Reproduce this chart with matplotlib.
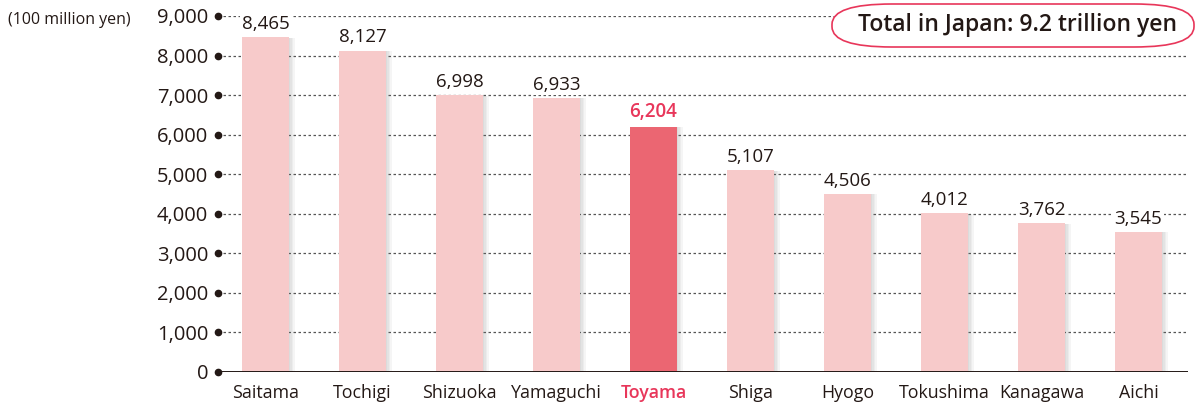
import matplotlib.pyplot as plt
import matplotlib.patheffects as pe
from matplotlib.patches import FancyBboxPatch

prefectures = ['Saitama', 'Tochigi', 'Shizuoka', 'Yamaguchi', 'Toyama',
               'Shiga', 'Hyogo', 'Tokushima', 'Kanagawa', 'Aichi']
values = [8465, 8127, 6998, 6933, 6204, 5107, 4506, 4012, 3762, 3545]
highlight = 'Toyama'
yticks = list(range(0, 9001, 1000))

pink = '#F7CACA'
red = '#EB6672'
red_text = '#E8365A'
dark = '#231815'

plt.rcParams['font.family'] = ['Open Sans', 'DejaVu Sans']

fig = plt.figure(figsize=(11.96, 4.05), dpi=100)
ax = fig.add_axes([0.1823, 0.0815, 0.811, 0.879])

x = list(range(len(prefectures)))
colors = [red if p == highlight else pink for p in prefectures]
bars = ax.bar(x, values, width=0.485, color=colors, zorder=3)
# soft grey shadow on the right edge
shadow = [pe.SimplePatchShadow(offset=(k, -0.5), shadow_rgbFace='#777777', alpha=0.07)
          for k in (1, 2, 3, 4)]
for b in bars:
    b.set_path_effects(shadow + [pe.Normal()])

ax.set_xlim(-0.49, 9.51)
ax.set_ylim(0, 9000)

for y in yticks[1:]:
    ax.axhline(y, color='#555555', lw=0.9, ls=(0, (2, 2)), zorder=1)
ax.axhline(0, color=dark, lw=1.4, zorder=4)

ax.set_yticks(yticks)
ax.set_yticklabels([f'{v:,}' for v in yticks], fontsize=14.5, color=dark)
ax.tick_params(axis='y', length=0, pad=7)
ax.plot([-0.49] * len(yticks), yticks, 'o', color=dark, ms=4.5, clip_on=False, zorder=5)

ax.set_xticks(x)
ax.set_xticklabels(prefectures, fontsize=12.8, color=dark)
ax.tick_params(axis='x', length=0, pad=9)
for lbl, p in zip(ax.get_xticklabels(), prefectures):
    if p == highlight:
        lbl.set_color(red_text)
        lbl.set_fontweight('semibold')

for xi, v, p in zip(x, values, prefectures):
    hl = p == highlight
    ax.annotate(f'{v:,}', (xi, v), xytext=(0, 3), textcoords='offset points',
                ha='center', va='bottom', fontsize=13.5,
                color=red_text if hl else dark, fontweight='semibold' if hl else 'normal',
                bbox=dict(boxstyle='square,pad=0.1', fc='white', ec='none'), zorder=6)

for s in ax.spines.values():
    s.set_visible(False)

fig.text(0.007, 0.951, '(100 million yen)', fontsize=11.5, color=dark, va='center')

box = FancyBboxPatch((832 / 1196, (405 - 47) / 405), 362 / 1196, 43 / 405,
                     boxstyle='round,pad=0,rounding_size=0.05', transform=fig.transFigure,
                     fc='white', ec='#E8365A', lw=1.2, zorder=10)
fig.add_artist(box)
fig.text(1017 / 1196, (405 - 25) / 405, 'Total in Japan: 9.2 trillion yen', fontsize=16.5,
         fontweight='semibold', color=dark, ha='center', va='center', zorder=11)

fig.savefig('out.png', dpi=100)
